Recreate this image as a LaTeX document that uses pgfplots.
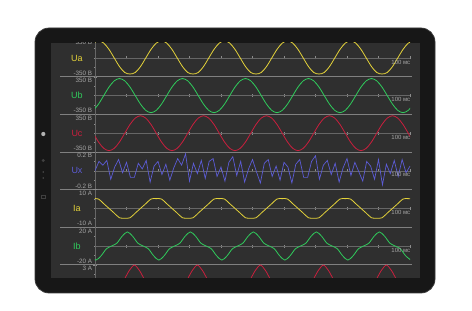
\documentclass[border=0pt]{standalone}
\usepackage{pgfplots}
\pgfplotsset{compat=1.18}
\usepackage{fontspec}
\setmainfont{Liberation Sans}
\definecolor{bodyc}{HTML}{171717}
\definecolor{rimc}{HTML}{3A3A3A}
\definecolor{scr}{HTML}{2F2F2F}
\definecolor{ya}{HTML}{E4D23A}
\definecolor{gr}{HTML}{2FCB5C}
\definecolor{rd}{HTML}{C91F3D}
\definecolor{bl}{HTML}{5C5CD6}
\definecolor{lab}{HTML}{A6A6A6}
\definecolor{divc}{HTML}{808080}
\definecolor{zl}{HTML}{666666}
\definecolor{tk}{HTML}{8C8C8C}
\pgfplotsset{
  panel/.style={
    scale only axis, width=315pt, height=37.6pt,
    anchor=south west,
    xmin=0, xmax=1800,
    axis x line=middle, axis y line=left,
    axis line style={-},
    x axis line style={draw=zl, line width=0.6pt},
    y axis line style={draw=zl, line width=0.5pt},
    xtick={0,180,...,1800}, xticklabels={},
    tick align=center, major tick length=3pt, minor tick length=2pt,
    tick style={draw=tk, line width=0.5pt},
    yticklabel style={anchor=north east, inner sep=1.2pt, font=\fontsize{6.3}{7}\selectfont, text=lab},
    extra y tick style={yticklabel style={anchor=south east}},
    every axis plot/.append style={line width=0.8pt, no marks},
  },
}
\newcommand{\msl}{\node[anchor=north east, inner sep=0.5pt, font=\fontsize{6}{7}\selectfont, text=lab] at (rel axis cs:1.003,0.47) {100 мс};}
\begin{document}
\begin{tikzpicture}
\path[use as bounding box] (0pt,0pt) rectangle (472pt,311pt);
\fill[white] (0pt,0pt) rectangle (472pt,311pt);
\fill[bodyc, draw=rimc, line width=0.7pt, rounded corners=14pt] (35pt,18pt) rectangle (435pt,283pt);
\fill[scr] (51pt,33pt) rectangle (420pt,268pt);
\fill[gray!60] (43.3pt,177pt) circle (2.1pt);
\fill[black!75] (43.3pt,150.5pt) circle (1.6pt);
\fill[black!70] (43.3pt,139pt) circle (0.9pt);
\fill[black!70] (43.3pt,133pt) circle (0.9pt);
\draw[black!75, line width=0.5pt] (41.6pt,112.3pt) rectangle (45pt,115.7pt);
\begin{scope}
\clip (51pt,33pt) rectangle (420pt,268pt);
\foreach \yy in {234.2,196.6,159,121.4,83.8,46.2} {\draw[divc, line width=0.6pt] (60pt,\yy pt) -- (412pt,\yy pt);}
\begin{scope}[font=\fontsize{9}{10}\selectfont]
\node[text=ya] at (77pt,253pt) {Ua};
\node[text=gr] at (77pt,215.4pt) {Ub};
\node[text=rd] at (77pt,177.8pt) {Uc};
\node[text=bl] at (77pt,140.2pt) {Ux};
\node[text=ya] at (77pt,102.6pt) {Ia};
\node[text=gr] at (77pt,65pt) {Ib};
\end{scope}
% Ua
\begin{axis}[panel, at={(95pt,234.2pt)}, ymin=-350, ymax=350, ytick={350}, yticklabels={350 В}, extra y ticks={-350}, extra y tick labels={-350 В}, minor ytick={-175,0,175}]
\addplot[ya, smooth] coordinates {(-10,277) (20,320) (50,277) (80,160) (110,0) (140,-160) (170,-270) (200,-298) (230,-270) (260,-160) (290,0) (320,160) (350,277)
(380,320) (410,277) (440,160) (470,0) (500,-160) (530,-270) (560,-298) (590,-270) (620,-160) (650,0) (680,160) (710,277)
(740,320) (770,277) (800,160) (830,0) (860,-160) (890,-270) (920,-298) (950,-270) (980,-160) (1010,0) (1040,160) (1070,277)
(1100,320) (1130,277) (1160,160) (1190,0) (1220,-160) (1250,-270) (1280,-298) (1310,-270) (1340,-160) (1370,0) (1400,160) (1430,277)
(1460,320) (1490,277) (1520,160) (1550,0) (1580,-160) (1610,-270) (1640,-298) (1670,-270) (1700,-160) (1730,0) (1760,160) (1790,277)
(1820,320)};
\msl
\end{axis}
% Ub
\begin{axis}[panel, at={(95pt,196.6pt)}, ymin=-350, ymax=350, ytick={350}, yticklabels={350 В}, extra y ticks={-350}, extra y tick labels={-350 В}, minor ytick={-175,0,175}]
\addplot[gr, smooth] coordinates {(-10,-275) (20,-159) (50,0) (80,159) (110,275) (140,318) (170,275) (200,159) (230,0) (260,-159) (290,-275) (320,-318) (350,-275) (380,-159) (410,0) (440,159) (470,275) (500,318) (530,275) (560,159) (590,0) (620,-159) (650,-275) (680,-318) (710,-275) (740,-159) (770,0) (800,159) (830,275) (860,318) (890,275) (920,159) (950,0) (980,-159) (1010,-275) (1040,-318) (1070,-275) (1100,-159) (1130,0) (1160,159) (1190,275) (1220,318) (1250,275) (1280,159) (1310,0) (1340,-159) (1370,-275) (1400,-318) (1430,-275) (1460,-159) (1490,0) (1520,159) (1550,275) (1580,318) (1610,275) (1640,159) (1670,0) (1700,-159) (1730,-275) (1760,-318) (1790,-275) (1820,-159)};
\msl
\end{axis}
% Uc
\begin{axis}[panel, at={(95pt,159pt)}, ymin=-350, ymax=350, ytick={350}, yticklabels={350 В}, extra y ticks={-350}, extra y tick labels={-350 В}, minor ytick={-175,0,175}]
\addplot[rd, smooth] coordinates {(-10,0) (20,-163) (50,-281) (80,-325) (110,-281) (140,-163) (170,0) (200,163) (230,281) (260,325) (290,281) (320,163)
(350,0) (380,-163) (410,-281) (440,-325) (470,-281) (500,-163) (530,0) (560,163) (590,281) (620,325) (650,281) (680,163)
(710,0) (740,-163) (770,-281) (800,-325) (830,-281) (860,-163) (890,0) (920,163) (950,281) (980,325) (1010,281) (1040,163)
(1070,0) (1100,-163) (1130,-281) (1160,-325) (1190,-281) (1220,-163) (1250,0) (1280,163) (1310,281) (1340,325) (1370,281) (1400,163)
(1430,0) (1460,-163) (1490,-281) (1520,-325) (1550,-281) (1580,-163) (1610,0) (1640,163) (1670,281) (1700,325) (1730,281) (1760,163)
(1790,0) (1820,-163)};
\msl
\end{axis}
% Ux
\begin{axis}[panel, at={(95pt,121.4pt)}, ymin=-0.2, ymax=0.2, ytick={0.2}, yticklabels={0.2 В}, extra y ticks={-0.2}, extra y tick labels={-0.2 В}, minor ytick={-0.1,0,0.1}]
\addplot[bl, line width=0.7pt] coordinates {(0,0.00) (22.5,0.10) (45,0.06) (67.5,0.11) (90,-0.09) (112.5,0.04) (135,0.12) (157.5,-0.02) (180,0.09) (202.5,-0.07) (225,-0.07) (247.5,0.08) (270,0.02) (292.5,0.11) (315,-0.12) (337.5,0.05) (360,0.10) (382.5,-0.04) (405,0.07) (427.5,-0.10) (450,0.03) (472.5,0.13) (495,0.06) (517.5,0.18) (540,-0.11) (562.5,0.08) (585,-0.03) (607.5,0.11) (630,-0.08) (652.5,0.10) (675,0.13) (697.5,-0.06) (720,0.04) (742.5,-0.11) (765,0.09) (787.5,0.15) (810,-0.05) (832.5,0.10) (855,-0.12) (877.5,0.02) (900,0.12) (922.5,-0.01) (945,-0.13) (967.5,0.08) (990,0.12) (1012.5,-0.06) (1035,0.05) (1057.5,-0.10) (1080,0.09) (1102.5,0.04) (1125,-0.13) (1147.5,0.07) (1170,0.12) (1192.5,-0.07) (1215,-0.07) (1237.5,0.10) (1260,0.16) (1282.5,-0.09) (1305,0.06) (1327.5,0.11) (1350,-0.04) (1372.5,0.08) (1395,-0.12) (1417.5,0.03) (1440,0.13) (1462.5,-0.05) (1485,0.09) (1507.5,-0.01) (1530,-0.11) (1552.5,0.10) (1575,0.05) (1597.5,-0.09) (1620,0.12) (1642.5,-0.15) (1665,0.07) (1687.5,-0.03) (1710,0.11) (1732.5,-0.06) (1755,0.12) (1777.5,-0.02) (1800,0.05)};
\msl
\end{axis}
% Ia
\begin{axis}[panel, at={(95pt,83.8pt)}, ymin=-10, ymax=10, ytick={10}, yticklabels={10 А}, extra y ticks={-10}, extra y tick labels={-10 А}, minor ytick={-5,0,5}]
\addplot[ya, smooth] coordinates {(-10,5.2) (20,5.0) (50,2.5) (80,0) (110,-2.5) (140,-5.0) (170,-5.2) (200,-5.0) (230,-2.5) (260,0) (290,2.5) (320,5.0)
(350,5.2) (380,5.0) (410,2.5) (440,0) (470,-2.5) (500,-5.0) (530,-5.2) (560,-5.0) (590,-2.5) (620,0) (650,2.5) (680,5.0)
(710,5.2) (740,5.0) (770,2.5) (800,0) (830,-2.5) (860,-5.0) (890,-5.2) (920,-5.0) (950,-2.5) (980,0) (1010,2.5) (1040,5.0)
(1070,5.2) (1100,5.0) (1130,2.5) (1160,0) (1190,-2.5) (1220,-5.0) (1250,-5.2) (1280,-5.0) (1310,-2.5) (1340,0) (1370,2.5) (1400,5.0)
(1430,5.2) (1460,5.0) (1490,2.5) (1520,0) (1550,-2.5) (1580,-5.0) (1610,-5.2) (1640,-5.0) (1670,-2.5) (1700,0) (1730,2.5) (1760,5.0)
(1790,5.2) (1820,5.0)};
\msl
\end{axis}
% Ib
\begin{axis}[panel, at={(95pt,46.2pt)}, ymin=-20, ymax=20, ytick={20}, yticklabels={20 А}, extra y ticks={-20}, extra y tick labels={-20 А}, minor ytick={-10,0,10}]
\addplot[gr, smooth] coordinates {(-25,-10.4) (5,-15) (35,-10.4) (65,-3) (95,0) (125,3) (155,10.4) (185,15) (215,10.4) (245,3) (275,0) (305,-3) (335,-10.4)
(365,-15) (395,-10.4) (425,-3) (455,0) (485,3) (515,10.4) (545,15) (575,10.4) (605,3) (635,0) (665,-3) (695,-10.4)
(725,-15) (755,-10.4) (785,-3) (815,0) (845,3) (875,10.4) (905,15) (935,10.4) (965,3) (995,0) (1025,-3) (1055,-10.4)
(1085,-15) (1115,-10.4) (1145,-3) (1175,0) (1205,3) (1235,10.4) (1265,15) (1295,10.4) (1325,3) (1355,0) (1385,-3) (1415,-10.4)
(1445,-15) (1475,-10.4) (1505,-3) (1535,0) (1565,3) (1595,10.4) (1625,15) (1655,10.4) (1685,3) (1715,0) (1745,-3) (1775,-10.4)
(1805,-15)};
\msl
\end{axis}
% Ic
\begin{axis}[panel, at={(95pt,8.6pt)}, ymin=-3, ymax=3, ytick={3}, yticklabels={3 А}, extra y ticks={-3}, extra y tick labels={-3 А}, minor ytick={-1.5,0,1.5}]
\addplot[rd, smooth] coordinates {(-15,-0.6) (15,-2.05) (45,-2.95) (75,-2.05) (105,-0.6) (135,0) (165,0.6) (195,2.05) (225,2.95) (255,2.05) (285,0.6) (315,0) (345,-0.6)
(375,-2.05) (405,-2.95) (435,-2.05) (465,-0.6) (495,0) (525,0.6) (555,2.05) (585,2.95) (615,2.05) (645,0.6) (675,0) (705,-0.6)
(735,-2.05) (765,-2.95) (795,-2.05) (825,-0.6) (855,0) (885,0.6) (915,2.05) (945,2.95) (975,2.05) (1005,0.6) (1035,0) (1065,-0.6)
(1095,-2.05) (1125,-2.95) (1155,-2.05) (1185,-0.6) (1215,0) (1245,0.6) (1275,2.05) (1305,2.95) (1335,2.05) (1365,0.6) (1395,0) (1425,-0.6)
(1455,-2.05) (1485,-2.95) (1515,-2.05) (1545,-0.6) (1575,0) (1605,0.6) (1635,2.05) (1665,2.95) (1695,2.05) (1725,0.6) (1755,0) (1785,-0.6)
(1815,-2.05)};
\msl
\end{axis}
\end{scope}
\end{tikzpicture}
\end{document}
